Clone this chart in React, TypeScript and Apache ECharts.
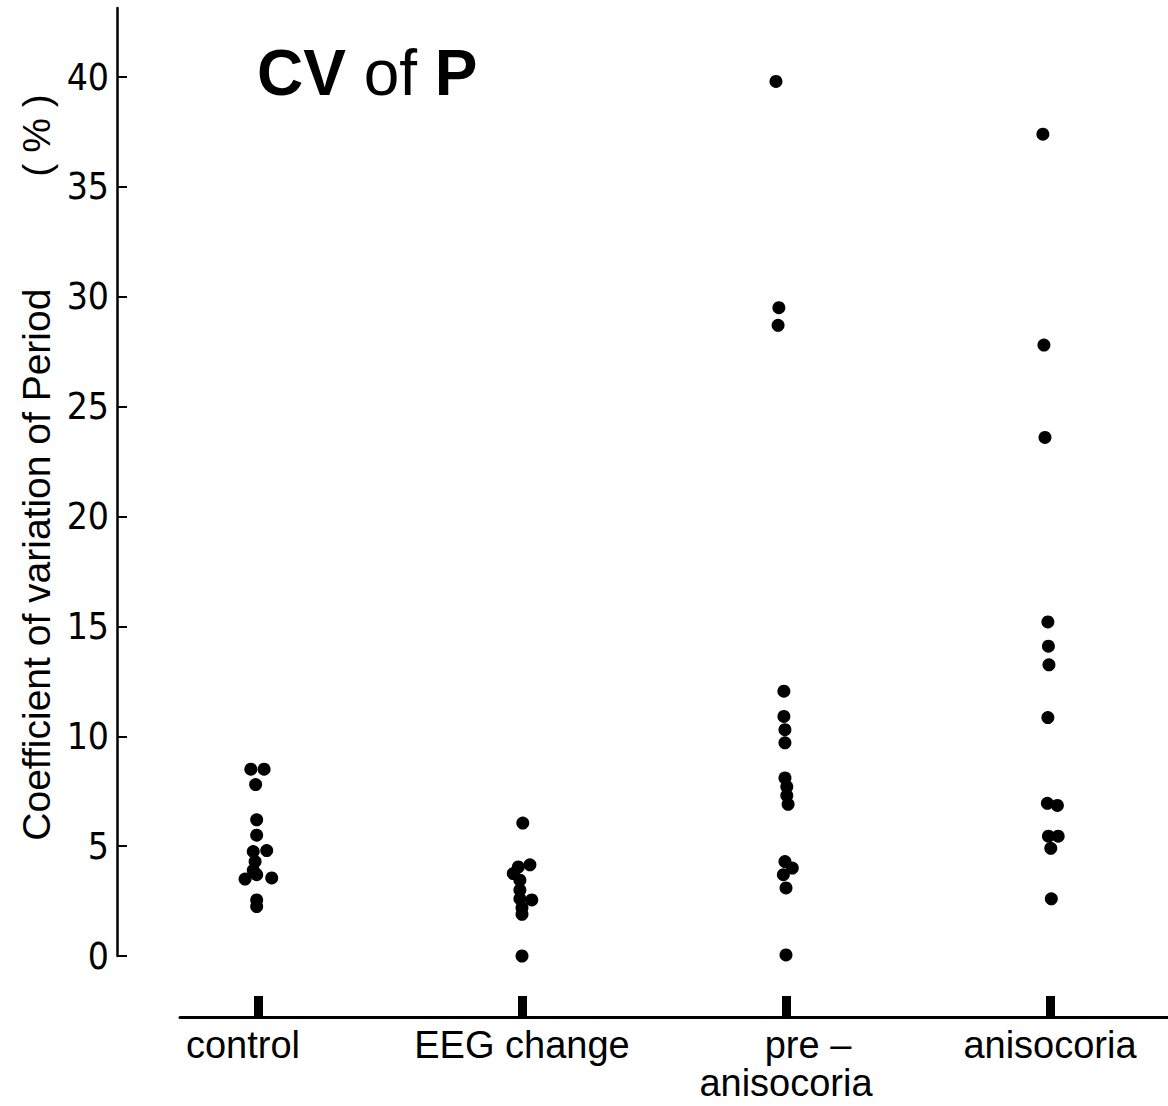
import React, { useEffect, useRef } from "react";
import * as echarts from "echarts";

const categories = ["control", "EEG change", "pre –\nanisocoria", "anisocoria"];
const yTickValues = [0, 5, 10, 15, 20, 25, 30, 35, 40];
const categoryPositions = [1, 2, 3, 4];

// values (%); jitter = small horizontal spread of overlapping dots (category units)
const controlValues = [8.5, 8.5, 7.8, 6.2, 5.5, 4.8, 4.75, 4.3, 3.9, 3.7, 3.5, 3.55, 2.55, 2.25];
const controlJitter = [-0.027, 0.023, -0.009, -0.005, -0.005, 0.033, -0.018, -0.011, -0.018, -0.005, -0.049, 0.052, -0.005, -0.005];

const eegValues = [6.05, 4.15, 4.05, 3.75, 3.45, 3.0, 2.6, 2.55, 2.2, 1.9, 0.0];
const eegJitter = [0.003, 0.03, -0.014, -0.033, -0.008, -0.008, -0.008, 0.037, 0, 0, 0];

const preAnisoValues = [39.8, 29.5, 28.7, 12.05, 10.9, 10.3, 9.7, 8.1, 7.7, 7.3, 6.9, 4.3, 4.0, 3.7, 3.1, 0.05];
const preAnisoJitter = [-0.038, -0.027, -0.03, -0.008, -0.008, -0.004, -0.004, -0.004, 0.003, 0.003, 0.008, -0.004, 0.024, -0.01, 0, 0];

const anisoValues = [37.4, 27.8, 23.6, 15.2, 14.1, 13.25, 10.85, 6.95, 6.85, 5.45, 5.45, 4.9, 2.6];
const anisoJitter = [-0.027, -0.023, -0.019, -0.008, -0.006, -0.004, -0.008, -0.01, 0.028, -0.006, 0.031, 0.003, 0.005];

const groups = [
  { values: controlValues, jitter: controlJitter },
  { values: eegValues, jitter: eegJitter },
  { values: preAnisoValues, jitter: preAnisoJitter },
  { values: anisoValues, jitter: anisoJitter },
];

export default function App() {
  const ref = useRef<HTMLDivElement>(null);
  useEffect(() => {
    const chart = echarts.init(ref.current!, null, { renderer: "svg" });
    const W = 1168;
    const H = 1106;
    const axisX = 117;
    const zeroY = 956;
    const fortyY = 77;
    const topY = 8;
    const baseY = 1017;
    const baseLeft = 180;
    const firstCatX = 258;
    const catStep = 264;
    const pxPerUnit = (zeroY - fortyY) / 40;
    const yMax = (zeroY - topY) / pxPerUnit;
    const x1Min = 1 - (firstCatX - axisX) / catStep;
    const xMax = 1 + (W - firstCatX) / catStep;
    const x2Min = 1 - (firstCatX - baseLeft) / catStep;
    const narrow = "'Liberation Sans Narrow', 'DejaVu Sans Condensed', sans-serif";
    const sans = "'Liberation Sans', Arial, sans-serif";

    const labelRich = {
      n: { fontSize: 38, fontFamily: sans, color: "#000", lineHeight: 38 },
      c: { fontSize: 38, fontFamily: sans, color: "#000", lineHeight: 38, padding: [0, 30, 0, 0] },
      p: { fontSize: 38, fontFamily: sans, color: "#000", lineHeight: 38, padding: [0, 0, 0, 44] },
    };
    const formatLabel = (v: number) => {
      const idx = Math.round(v) - 1;
      const name = categories[idx] ?? "";
      if (idx === 0) return `{c|${name}}`;
      if (name.includes("\n")) {
        const [l1, l2] = name.split("\n");
        return `{p|${l1}}\n{n|${l2}}`;
      }
      return `{n|${name}}`;
    };

    chart.setOption({
      animation: false,
      backgroundColor: "#ffffff",
      title: {
        text: "{b|CV} {r|of} {b|P}",
        left: 252,
        top: 36,
        textStyle: {
          fontSize: 64,
          fontFamily: sans,
          color: "#000",
          rich: {
            b: { fontSize: 64, fontWeight: "bold", fontFamily: sans, color: "#000" },
            r: { fontSize: 64, fontWeight: "normal", fontFamily: sans, color: "#000" },
          },
        },
      },
      grid: [
        { left: axisX, right: 0, top: topY, bottom: H - zeroY, containLabel: false, outerBoundsMode: "none" },
        { left: baseLeft, right: 0, top: baseY - 1, height: 1, containLabel: false, outerBoundsMode: "none" },
      ],
      xAxis: [
        { gridIndex: 0, type: "value", min: x1Min, max: xMax, show: false },
        {
          gridIndex: 1,
          type: "value",
          min: x2Min,
          max: xMax,
          position: "bottom",
          axisLine: { show: true, lineStyle: { color: "#000", width: 3 } },
          axisTick: {
            show: true,
            inside: true,
            length: 21,
            customValues: categoryPositions,
            lineStyle: { color: "#000", width: 9 },
          },
          axisLabel: {
            show: true,
            customValues: categoryPositions,
            formatter: formatLabel,
            fontSize: 38,
            lineHeight: 38,
            margin: 9,
            color: "#000",
            fontFamily: sans,
            rich: labelRich,
          },
          splitLine: { show: false },
        },
      ],
      yAxis: [
        {
          gridIndex: 0,
          type: "value",
          min: 0,
          max: yMax,
          axisLine: { show: true, lineStyle: { color: "#000", width: 2.5 } },
          axisTick: {
            show: true,
            inside: true,
            length: 10,
            customValues: yTickValues,
            lineStyle: { color: "#000", width: 2 },
          },
          axisLabel: {
            show: true,
            customValues: yTickValues,
            margin: 8,
            fontSize: 37,
            color: "#000",
            fontFamily: narrow,
          },
          splitLine: { show: false },
          name: "{a|Coefficient of variation of Period}{b|( % )}",
          nameLocation: "middle",
          nameRotate: 90,
          nameGap: 52,
          nameTextStyle: {
            color: "#000",
            fontFamily: sans,
            fontSize: 39,
            rich: {
              a: { fontSize: 39, fontFamily: sans, color: "#000", padding: [0, 0, 0, 29] },
              b: { fontSize: 39, fontFamily: sans, color: "#000", padding: [0, 0, 0, 112] },
            },
          },
        },
        { gridIndex: 1, type: "value", show: false },
      ],
      series: groups.map((g, gi) => ({
        type: "scatter",
        xAxisIndex: 0,
        yAxisIndex: 0,
        symbol: "circle",
        symbolSize: 13,
        itemStyle: { color: "#000", opacity: 1 },
        data: g.values.map((v, i) => [categoryPositions[gi] + g.jitter[i], v]),
      })),
    });
    return () => chart.dispose();
  }, []);
  return <div ref={ref} style={{ position: "absolute", left: 0, top: 0, width: 1168, height: 1106 }} />;
}
